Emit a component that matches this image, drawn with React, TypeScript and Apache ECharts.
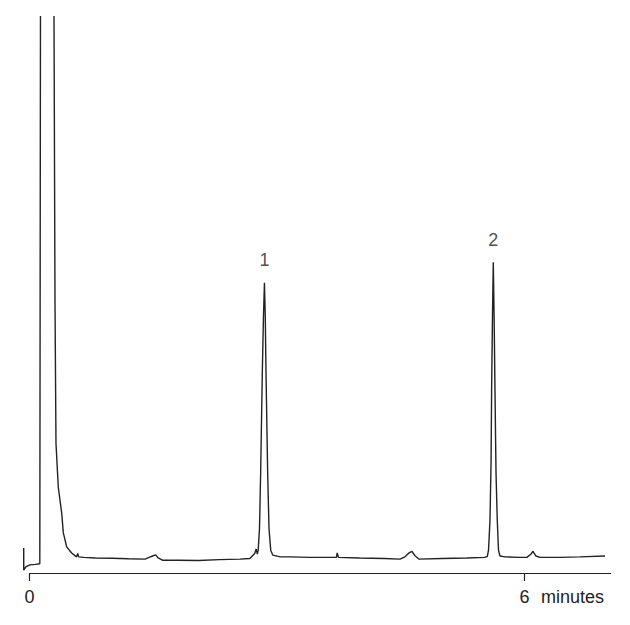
import React, { useEffect, useRef } from "react";
import * as echarts from "echarts";

// Retention time (minutes) and detector signal (arbitrary units, 0-100 = visible range)
const times: number[] = [
  -0.07, -0.07, -0.045, 0.005, 0.07, 0.125, 0.133, 0.2, 0.297, 0.309, 0.321, 0.349, 0.39, 0.41, 0.451,
  0.511, 0.57, 0.585, 0.595, 0.66, 0.8, 1.0, 1.2, 1.4, 1.45, 1.5, 1.53, 1.56, 1.61, 1.8, 2.05, 2.3, 2.55,
  2.67, 2.73, 2.748, 2.762, 2.772, 2.788, 2.802, 2.822, 2.836, 2.848, 2.858, 2.867, 2.887, 2.903, 2.924, 2.95,
  3.04, 3.16, 3.4, 3.72, 3.73, 3.745, 4.0, 4.3, 4.49, 4.55, 4.6, 4.636, 4.673, 4.72, 5.0, 5.3, 5.52,
  5.55, 5.564, 5.582, 5.595, 5.602, 5.612, 5.622, 5.632, 5.642, 5.655, 5.67, 5.685, 5.703, 5.764, 5.945, 6.03,
  6.079, 6.103, 6.139, 6.188, 6.43, 6.67, 6.976,
];
const signal: (number | null)[] = [
  4.5, 0.5, 1.1, 1.45, 1.55, 1.65, 100, null, 100, 49, 23.3, 15.4, 10.8, 7.2, 4.7,
  3.6, 2.9, 3.5, 2.9, 2.8, 2.7, 2.65, 2.55, 2.5, 2.8, 3.1, 3.25, 2.7, 2.3, 2.3, 2.25, 2.4, 2.5,
  2.6, 3.5, 4.3, 3.4, 4.1, 8.0, 18.0, 35.9, 46.0, 52.1, 46.0, 35.9, 18.0, 8.0, 4.1, 3.2,
  2.9, 2.9, 2.8, 2.8, 3.6, 2.8, 2.7, 2.6, 2.5, 2.9, 3.6, 3.9, 3.1, 2.5, 2.6, 2.7, 2.8,
  3.0, 4.1, 9.5, 20.0, 33.4, 46.0, 55.8, 46.0, 33.4, 18.0, 9.5, 4.1, 3.05, 2.9, 2.8, 2.8,
  3.4, 3.9, 3.05, 2.8, 2.8, 2.9, 3.05,
];

// Peak annotations
const peakNames: string[] = ["1", "2"];
const peakTimes: number[] = [2.848, 5.622];
const peakHeights: number[] = [52.1, 55.8];

// Axis ticks and extent
const tickValues: number[] = [0, 6];
const axisStart = 0;
const axisEnd = 7.05;
const axisUnit = "minutes";

const FONT = "'Liberation Sans', Arial, sans-serif";
const INK = "#222";

export default function App() {
  const ref = useRef<HTMLDivElement>(null);

  useEffect(() => {
    document.body.style.margin = "0";
    if (!ref.current) return;
    const chart = echarts.init(ref.current, undefined, { renderer: "svg" });
    const lineData = times.map((t, i) => [t, signal[i] === null ? null : signal[i]]);
    const peakData = peakNames.map((n, i) => ({ name: n, value: [peakTimes[i], peakHeights[i]] }));

    chart.setOption({
      animation: false,
      backgroundColor: "#fff",
      grid: { left: 22.9, right: 18.9, top: 16, bottom: 52, containLabel: false },
      xAxis: {
        type: "value",
        min: -0.08,
        max: axisEnd,
        axisLine: { show: false },
        axisTick: { show: true, customValues: tickValues, length: 8, lineStyle: { color: INK, width: 1.2 } },
        axisLabel: {
          show: true,
          customValues: tickValues,
          margin: 15,
          color: INK,
          fontFamily: FONT,
          fontSize: 18,
          formatter: (v: number) => String(v),
        },
        splitLine: { show: false },
      },
      yAxis: { type: "value", min: 0, max: 100, show: false },
      graphic: [
        {
          type: "text",
          left: 541,
          top: 588,
          style: { text: axisUnit, fill: INK, font: `18px ${FONT}` },
        },
      ],
      series: [
        {
          type: "line",
          data: lineData,
          clip: false,
          showSymbol: false,
          symbol: "none",
          connectNulls: false,
          lineStyle: { color: INK, width: 1.4 },
          silent: true,
          markLine: {
            silent: true,
            symbol: ["none", "none"],
            label: { show: false },
            emphasis: { disabled: true },
            lineStyle: { color: INK, width: 1.2, type: "solid" },
            data: [[{ coord: [axisStart, 0] }, { coord: [axisEnd, 0] }]],
          },
        },
        {
          type: "scatter",
          data: peakData,
          symbolSize: 1,
          itemStyle: { color: "rgba(0,0,0,0)" },
          silent: true,
          label: {
            show: true,
            position: "top",
            distance: 13,
            formatter: "{b}",
            color: INK,
            fontFamily: FONT,
            fontSize: 18,
          },
        },
      ],
    });
    return () => chart.dispose();
  }, []);

  return <div ref={ref} style={{ width: 630, height: 625 }} />;
}
